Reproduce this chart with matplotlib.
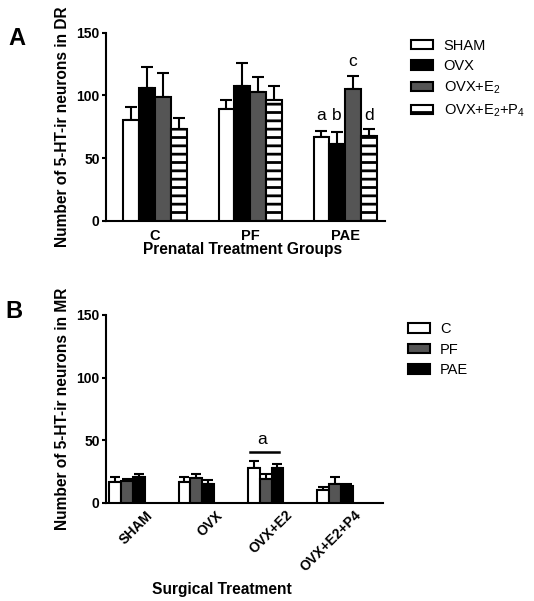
import numpy as np
import matplotlib
import matplotlib.pyplot as plt
from matplotlib.transforms import ScaledTranslation

matplotlib.use('Agg')

plt.rcParams['font.family'] = ['Liberation Sans', 'DejaVu Sans']
plt.rcParams['mathtext.default'] = 'regular'
plt.rcParams['hatch.linewidth'] = 2.0

# Panel A: 5-HT-ir neurons in DR, by prenatal group
groups_a = ['C', 'PF', 'PAE']
series_a = ['SHAM', 'OVX', 'OVX+E$_2$', 'OVX+E$_2$+P$_4$']
sham_a = [80.5, 89.2, 66.7]
ovx_a = [105.7, 107.8, 61.6]
ovx_e2_a = [98.6, 102.5, 104.9]
ovx_e2p4_a = [73.6, 96.4, 67.7]
sham_a_err = [10.1, 7.2, 5.0]
ovx_a_err = [17.3, 17.8, 9.6]
ovx_e2_a_err = [19.4, 12.5, 10.6]
ovx_e2p4_a_err = [8.4, 11.4, 5.9]
letters_a = ['a', 'b', 'c', 'd']
letter_y_a = [80.5, 80.5, 123.5, 80.5]

# Panel B: 5-HT-ir neurons in MR, by surgical treatment
groups_b = ['SHAM', 'OVX', 'OVX+E2', 'OVX+E2+P4']
series_b = ['C', 'PF', 'PAE']
c_b = [16.1, 16.1, 27.7, 10.2]
pf_b = [17.5, 19.6, 18.8, 14.9]
pae_b = [20.2, 14.9, 27.7, 13.5]
c_b_err = [4.3, 4.6, 5.9, 2.2]
pf_b_err = [1.0, 3.5, 4.3, 5.5]
pae_b_err = [2.9, 3.4, 3.5, 1.3]
sig_line_b = 40.6


def style_axis(ax):
    for side in ['top', 'right']:
        ax.spines[side].set_visible(False)
    for side in ['left', 'bottom']:
        ax.spines[side].set_linewidth(1.5)
    ax.set_ylim(0, 150)
    ax.set_yticks([0, 50, 100, 150])
    ax.tick_params(axis='y', direction='out', length=3, width=1.5, pad=1.5, labelsize=10)
    ax.tick_params(axis='x', length=0, pad=7, labelsize=10.5)
    for lbl in ax.get_yticklabels() + ax.get_xticklabels():
        lbl.set_fontweight('bold')


fig = plt.figure(figsize=(5.34, 6.01), dpi=100)

# ---- Panel A ----
ax1 = fig.add_axes([106 / 534, 1 - 221 / 601, 279 / 534, 188.3 / 601])
x = np.arange(len(groups_a))
w = 0.166
vals = [sham_a, ovx_a, ovx_e2_a, ovx_e2p4_a]
errs = [sham_a_err, ovx_a_err, ovx_e2_a_err, ovx_e2p4_a_err]
fills = ['white', 'black', '#555555', 'white']
hatches = [None, None, None, '--']
for i in range(4):
    pos = x + (i - 1.5) * w
    ax1.bar(pos, vals[i], w, color=fills[i], edgecolor='black', linewidth=1.5,
            hatch=hatches[i], label=series_a[i], zorder=3)
    ax1.errorbar(pos, vals[i], yerr=[np.zeros(3), errs[i]], fmt='none', ecolor='black',
                 elinewidth=1.5, capsize=4, capthick=1.5, zorder=2)
for i, (lt, ly) in enumerate(zip(letters_a, letter_y_a)):
    ax1.text(x[2] + (i - 1.5) * w, ly, lt, ha='center', va='baseline', fontsize=12.5)

ax1.set_xlim(-0.516, 2.42)
ax1.set_xticks(x)
ax1.set_xticklabels(groups_a)
style_axis(ax1)
ax1.tick_params(axis='x', pad=6)
ax1.set_ylabel('Number of 5-HT-ir neurons in DR', fontsize=11.2, fontweight='bold')
ax1.yaxis.set_label_coords(-0.13, 0.5)
ax1.set_xlabel('Prenatal Treatment Groups', fontsize=11.2, fontweight='bold')
ax1.xaxis.set_label_coords(0.49, -0.112)
ax1.legend(loc='upper left', bbox_to_anchor=(1.074, 1.0), frameon=False, fontsize=10.5,
           handlelength=1.5, handleheight=0.65, handletextpad=0.7, labelspacing=0.45,
           borderaxespad=0)
fig.text(8 / 534, 1 - 45 / 601, 'A', fontsize=17, fontweight='bold')

# ---- Panel B ----
ax2 = fig.add_axes([106 / 534, 1 - 502.5 / 601, 277 / 534, 187.5 / 601])
xb = np.arange(len(groups_b))
wb = 0.17
vals_b = [c_b, pf_b, pae_b]
errs_b = [c_b_err, pf_b_err, pae_b_err]
fills_b = ['white', '#555555', 'black']
for i in range(3):
    pos = xb + (i - 1) * wb
    ax2.bar(pos, vals_b[i], wb, color=fills_b[i], edgecolor='black', linewidth=1.5,
            label=series_b[i], zorder=3)
    ax2.errorbar(pos, vals_b[i], yerr=[np.zeros(4), errs_b[i]], fmt='none', ecolor='black',
                 elinewidth=1.5, capsize=3.5, capthick=1.5, zorder=2)
ax2.plot([xb[2] - 0.23, xb[2] + 0.19], [sig_line_b, sig_line_b], color='black', lw=1.8)
ax2.text(xb[2] - 0.05, 47, 'a', ha='center', va='baseline', fontsize=12.5)

ax2.set_xlim(-0.30, 3.69)
ax2.set_xticks(xb)
ax2.set_xticklabels(groups_b, rotation=45, ha='right', rotation_mode='anchor')
style_axis(ax2)
ax2.tick_params(axis='x', labelsize=10, pad=4)
for lbl in ax2.get_xticklabels():
    lbl.set_transform(lbl.get_transform() + ScaledTranslation(0.19, 0, fig.dpi_scale_trans))
ax2.set_ylabel('Number of 5-HT-ir neurons in MR', fontsize=11.2, fontweight='bold')
ax2.yaxis.set_label_coords(-0.13, 0.5)
ax2.set_xlabel('Surgical Treatment', fontsize=11.2, fontweight='bold')
ax2.xaxis.set_label_coords(0.419, -0.422)
ax2.legend(loc='upper left', bbox_to_anchor=(1.069, 0.993), frameon=False, fontsize=10.5,
           handlelength=1.5, handleheight=0.65, handletextpad=0.7, labelspacing=0.45,
           borderaxespad=0)
fig.text(5 / 534, 1 - 318 / 601, 'B', fontsize=17, fontweight='bold')

fig.savefig('out.png', dpi=100)
